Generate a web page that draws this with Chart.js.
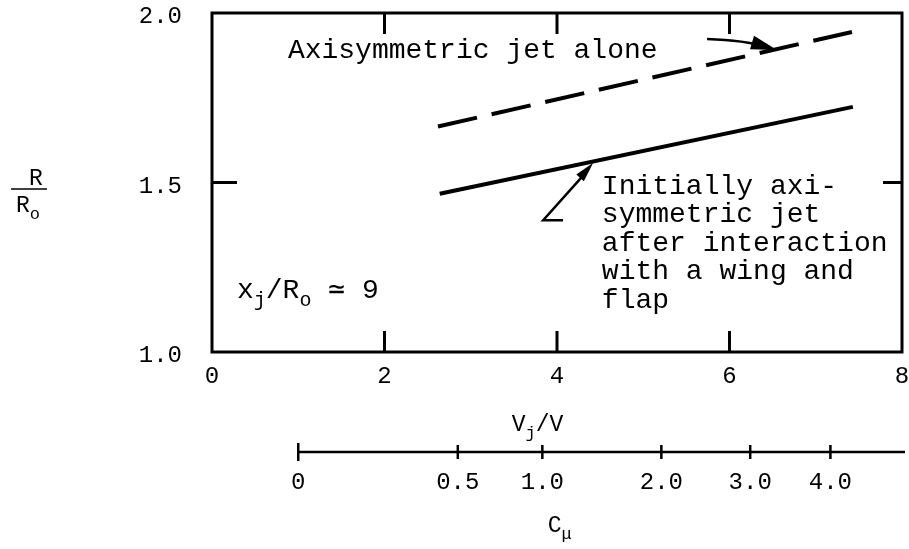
<!DOCTYPE html>
<html>
<head>
<meta charset="utf-8">
<script src="https://cdn.jsdelivr.net/npm/chart.js@4"></script>
<style>
  body { margin: 0; background: #fff; }
  canvas { display: block; }
</style>
</head>
<body>
<canvas id="chart" width="909" height="549"></canvas>
<script>
// R/Ro against Vj/V, jet alone and after the wing/flap interaction
const jetAloneVj = [2.62, 7.42];
const jetAloneR = [1.665, 1.944];
const wingFlapVj = [2.64, 7.43];
const wingFlapR = [1.467, 1.723];

// C_mu scale under the plot, each value placed at its Vj/V
const cmuLabels = ["0", "0.5", "1.0", "2.0", "3.0", "4.0"];
const cmuAtVj = [1.0, 2.85, 3.83, 5.21, 6.24, 7.17];

const noteJetAlone = "Axisymmetric jet alone";
const noteWingFlap = ["Initially axi-", "symmetric jet", "after interaction", "with a wing and", "flap"];

const mono = '"Liberation Mono", "DejaVu Sans Mono", monospace';

function toPoints(xs, ys) {
  return xs.map((v, i) => ({ x: v, y: ys[i] }));
}

// text with subscript pieces: runs = [[text, isSub], ...]
function drawRuns(ctx, x, y, runs, size) {
  runs.forEach(([t, sub]) => {
    const s = sub ? Math.round(size * 0.72) : size;
    ctx.font = s + "px " + mono;
    ctx.fillText(t, x, sub ? y + size * 0.3 : y);
    x += ctx.measureText(t).width;
  });
}

function arrowHead(ctx, fx, fy, tx, ty, len, half) {
  const a = Math.atan2(ty - fy, tx - fx);
  ctx.beginPath();
  ctx.moveTo(tx, ty);
  ctx.lineTo(tx - len * Math.cos(a) + half * Math.sin(a), ty - len * Math.sin(a) - half * Math.cos(a));
  ctx.lineTo(tx - len * Math.cos(a) - half * Math.sin(a), ty - len * Math.sin(a) + half * Math.cos(a));
  ctx.closePath();
  ctx.fill();
}

const frameAndNotes = {
  id: "frameAndNotes",
  afterDraw(chart) {
    const { ctx, chartArea: a, scales: { x, y } } = chart;
    const px = v => x.getPixelForValue(v);
    const py = v => y.getPixelForValue(v);
    ctx.save();
    ctx.strokeStyle = "#000";
    ctx.fillStyle = "#000";
    ctx.lineCap = "butt";

    // box + inward ticks
    ctx.lineWidth = 3;
    ctx.strokeRect(a.left, a.top, a.right - a.left, a.bottom - a.top);
    ctx.beginPath();
    x.ticks.filter(t => t.value > x.min && t.value < x.max).forEach(t => {
      const p = px(t.value);
      ctx.moveTo(p, a.top); ctx.lineTo(p, a.top + 21);
      ctx.moveTo(p, a.bottom); ctx.lineTo(p, a.bottom - 21);
    });
    y.ticks.filter(t => t.value > y.min && t.value < y.max).forEach(t => {
      const p = py(t.value);
      ctx.moveTo(a.left, p); ctx.lineTo(a.left + 25, p);
      ctx.moveTo(a.right, p); ctx.lineTo(a.right - 19, p);
    });
    ctx.stroke();

    // notes
    ctx.textAlign = "left";
    ctx.textBaseline = "alphabetic";
    ctx.font = "28px " + mono;
    ctx.fillText(noteJetAlone, px(0.88), py(1.867));
    noteWingFlap.forEach((line, i) => ctx.fillText(line, px(4.52), py(1.466) + i * 28.4));
    drawRuns(ctx, px(0.29), py(1.159), [["x", false], ["j", true], ["/R", false], ["o", true], [" \u2243 9", false]], 28);

    // arrow to the dashed line
    ctx.lineWidth = 2.5;
    const s1 = [px(5.74), py(1.923)], c1 = [px(6.18), py(1.919)], t1 = [px(6.55), py(1.891)];
    ctx.beginPath();
    ctx.moveTo(s1[0], s1[1]);
    ctx.quadraticCurveTo(c1[0], c1[1], t1[0] - 10, t1[1] - 3);
    ctx.stroke();
    arrowHead(ctx, c1[0], c1[1], t1[0], t1[1], 26, 7);

    // leader to the solid line
    const tail = [px(4.07), py(1.389)], knee = [px(3.84), py(1.389)], t2 = [px(4.42), py(1.558)];
    ctx.beginPath();
    ctx.moveTo(tail[0], tail[1]);
    ctx.lineTo(knee[0], knee[1]);
    ctx.lineTo(t2[0] - 5, t2[1] + 7);
    ctx.stroke();
    arrowHead(ctx, knee[0], knee[1], t2[0], t2[1], 20, 5);

    // y axis title R/Ro
    ctx.textAlign = "center";
    ctx.font = "23px " + mono;
    ctx.fillText("R", 36, a.top + 172);
    ctx.lineWidth = 1.5;
    ctx.beginPath();
    ctx.moveTo(11, a.top + 176); ctx.lineTo(47, a.top + 176);
    ctx.stroke();
    ctx.textAlign = "left";
    drawRuns(ctx, 16, a.top + 199, [["R", false], ["o", true]], 23);

    // x axis title Vj/V
    drawRuns(ctx, px(3.88) - 35, a.bottom + 79, [["V", false], ["j", true], ["/V", false]], 23);

    // C_mu scale
    const yc = a.bottom + 100;
    ctx.lineWidth = 2.5;
    ctx.beginPath();
    ctx.moveTo(px(cmuAtVj[0]), yc);
    ctx.lineTo(a.right + 3, yc);
    cmuAtVj.forEach((v, i) => {
      const h = i === 0 ? 9 : 7;
      ctx.moveTo(px(v), yc - h); ctx.lineTo(px(v), yc + h);
    });
    ctx.stroke();
    ctx.textAlign = "center";
    ctx.textBaseline = "middle";
    ctx.font = "24px " + mono;
    cmuLabels.forEach((t, i) => ctx.fillText(t, px(cmuAtVj[i]), yc + 31));
    ctx.textAlign = "left";
    ctx.textBaseline = "alphabetic";
    drawRuns(ctx, px(4.09) - 17, a.bottom + 180, [["C", false], ["\u03bc", true]], 23);

    ctx.restore();
  }
};

new Chart(document.getElementById("chart"), {
  type: "line",
  data: {
    datasets: [
      {
        label: "Axisymmetric jet alone",
        data: toPoints(jetAloneVj, jetAloneR),
        borderColor: "#000",
        borderWidth: 4,
        borderDash: [40, 15],
        pointRadius: 0,
        fill: false
      },
      {
        label: "After interaction with a wing and flap",
        data: toPoints(wingFlapVj, wingFlapR),
        borderColor: "#000",
        borderWidth: 4,
        pointRadius: 0,
        fill: false
      }
    ]
  },
  options: {
    responsive: false,
    animation: false,
    layout: { padding: { left: 0, right: 7, top: 13, bottom: 157 } },
    plugins: { legend: { display: false }, tooltip: { enabled: false } },
    scales: {
      x: {
        type: "linear",
        min: 0,
        max: 8,
        ticks: { stepSize: 2, color: "#000", font: { family: mono, size: 24 }, padding: 10, maxRotation: 0 },
        grid: { display: false, drawTicks: false },
        border: { display: false },
        afterFit(s) { s.height = 40; s.paddingLeft = 0; s.paddingRight = 0; }
      },
      y: {
        min: 1,
        max: 2,
        ticks: { stepSize: 0.5, color: "#000", font: { family: mono, size: 24 }, padding: 30, labelOffset: 4,
                 callback: v => v.toFixed(1) },
        grid: { display: false, drawTicks: false },
        border: { display: false },
        afterFit(s) { s.width = 212; s.paddingTop = 0; s.paddingBottom = 0; }
      }
    }
  },
  plugins: [frameAndNotes]
});
</script>
</body>
</html>
